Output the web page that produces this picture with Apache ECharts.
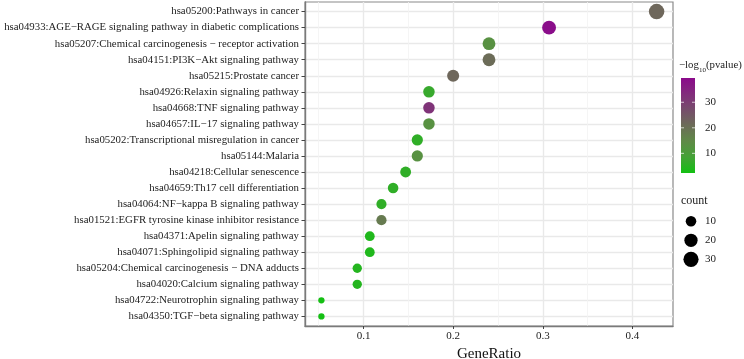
<!DOCTYPE html>
<html>
<head>
<meta charset="utf-8">
<script src="https://cdn.jsdelivr.net/npm/echarts@6/dist/echarts.min.js"></script>
<style>
html, body { margin: 0; padding: 0; background: #fff; }
#bubble { width: 744px; height: 359px; }
</style>
</head>
<body>
<div id="bubble"></div>
<script>
// KEGG pathways, top to bottom
var pathways = [
  "hsa05200:Pathways in cancer",
  "hsa04933:AGE\u2212RAGE signaling pathway in diabetic complications",
  "hsa05207:Chemical carcinogenesis \u2212 receptor activation",
  "hsa04151:PI3K\u2212Akt signaling pathway",
  "hsa05215:Prostate cancer",
  "hsa04926:Relaxin signaling pathway",
  "hsa04668:TNF signaling pathway",
  "hsa04657:IL\u221217 signaling pathway",
  "hsa05202:Transcriptional misregulation in cancer",
  "hsa05144:Malaria",
  "hsa04218:Cellular senescence",
  "hsa04659:Th17 cell differentiation",
  "hsa04064:NF\u2212kappa B signaling pathway",
  "hsa01521:EGFR tyrosine kinase inhibitor resistance",
  "hsa04371:Apelin signaling pathway",
  "hsa04071:Sphingolipid signaling pathway",
  "hsa05204:Chemical carcinogenesis \u2212 DNA adducts",
  "hsa04020:Calcium signaling pathway",
  "hsa04722:Neurotrophin signaling pathway",
  "hsa04350:TGF\u2212beta signaling pathway"
];
var geneRatio = [0.427, 0.307, 0.240, 0.240, 0.200, 0.173, 0.173, 0.173, 0.160, 0.160,
                 0.147, 0.133, 0.120, 0.120, 0.107, 0.107, 0.093, 0.093, 0.053, 0.053];
var counts = [32, 23, 18, 18, 15, 13, 13, 13, 12, 12, 11, 10, 9, 9, 8, 8, 7, 7, 4, 4];
var logP = [22, 39, 13, 21, 22, 7, 32, 13, 6, 13, 6, 6, 6, 18, 4, 4, 4.5, 4.5, 2.5, 2.5];

var xTicks = [0.1, 0.2, 0.3, 0.4];
var xMinor = [0.05, 0.15, 0.25, 0.35];
var colorTicks = [10, 20, 30];
var sizeTicks = [10, 20, 30];
var colorStops = ["#12c012", "#44a236", "#5f8a47", "#6c6c58", "#764d6b", "#822c7c", "#8b0a8b"];

var serif = '"Liberation Serif", "DejaVu Serif", serif';
var pMin = 2.3, pMax = 39.5;          // colour bar limits
var barLeft = 681, barTop = 78, barW = 14, barH = 95;

var cMin = Math.min.apply(null, counts), cMax = Math.max.apply(null, counts);
function sizeOf(c) {
  // area-like scaling as in ggplot scale_size
  return 6.3 + 9.2 * Math.sqrt(Math.max(0, c - cMin) / (cMax - cMin));
}

var yIdx = pathways.map(function (p, i) { return i; });
var points = pathways.map(function (p, i) {
  return [geneRatio[i], i, logP[i], counts[i]];
});

var ctx = document.createElement("canvas").getContext("2d");
function textW(s, size) {
  ctx.font = size + "px " + serif;
  return ctx.measureText(s).width;
}

var myChart = echarts.init(document.getElementById("bubble"));

var graphics = [];
// colour bar title: -log10(pvalue) with subscript
var tx = 679, ty = 71, tSize = 10.8, subSize = 7;
graphics.push({ type: "text", x: tx, y: ty,
  style: { text: "\u2212log", fontSize: tSize, fontFamily: serif, fill: "#222", verticalAlign: "bottom" } });
tx += textW("\u2212log", tSize);
graphics.push({ type: "text", x: tx, y: ty + 2.5,
  style: { text: "10", fontSize: subSize, fontFamily: serif, fill: "#222", verticalAlign: "bottom" } });
tx += textW("10", subSize);
graphics.push({ type: "text", x: tx, y: ty,
  style: { text: "(pvalue)", fontSize: tSize, fontFamily: serif, fill: "#222", verticalAlign: "bottom" } });

// colour bar
graphics.push({
  type: "rect", shape: { x: barLeft, y: barTop, width: barW, height: barH },
  style: {
    fill: new echarts.graphic.LinearGradient(0, 1, 0, 0, colorStops.map(function (c, k) {
      return { offset: k / (colorStops.length - 1), color: c };
    }))
  }
});
colorTicks.forEach(function (v) {
  var y = barTop + (pMax - v) / (pMax - pMin) * barH;
  graphics.push({ type: "line", shape: { x1: barLeft, y1: y, x2: barLeft + 3, y2: y },
    style: { stroke: "#fff", lineWidth: 1, opacity: 0.7 }, z: 100 });
  graphics.push({ type: "line", shape: { x1: barLeft + barW - 3, y1: y, x2: barLeft + barW, y2: y },
    style: { stroke: "#fff", lineWidth: 1, opacity: 0.7 }, z: 100 });
  graphics.push({ type: "text", x: 705, y: y,
    style: { text: String(v), fontSize: 11, fontFamily: serif, fill: "#222", verticalAlign: "middle" } });
});
// size legend
graphics.push({ type: "text", x: 681, y: 201,
  style: { text: "count", fontSize: 12, fontFamily: serif, fill: "#222", verticalAlign: "middle" } });
sizeTicks.forEach(function (v, k) {
  var cy = 221.3 + k * 19;
  graphics.push({ type: "circle", shape: { cx: 691, cy: cy, r: sizeOf(v) / 2 }, style: { fill: "#000" } });
  graphics.push({ type: "text", x: 705, y: cy,
    style: { text: String(v), fontSize: 11, fontFamily: serif, fill: "#222", verticalAlign: "middle" } });
});

var option = {
  backgroundColor: "#fff",
  animation: false,
  grid: {
    left: 305, top: 2, width: 368, height: 324,
    outerBoundsMode: "none",
    containLabel: false,
    show: true, borderColor: "#8a8a8a", borderWidth: 1.2, backgroundColor: "#fff"
  },
  xAxis: [
    {
      type: "value",
      min: 0.0347, max: 0.4453,
      name: "GeneRatio",
      nameLocation: "middle",
      nameGap: 17,
      nameTextStyle: { fontSize: 15, fontFamily: serif, color: "#111", verticalAlign: "top" },
      axisLine: { show: true, onZero: false, lineStyle: { color: "#7a7a7a", width: 1.4 } },
      axisTick: { show: true, length: 3, customValues: xTicks, lineStyle: { color: "#444" } },
      axisLabel: { customValues: xTicks, margin: 5, fontSize: 11, fontFamily: serif, color: "#222" },
      splitLine: { show: true, lineStyle: { color: "#e9e9e9", width: 1.4 } }
    },
    {
      type: "value",
      position: "top",
      min: 0.0347, max: 0.4453,
      axisLine: { show: false },
      axisTick: { show: false, customValues: xMinor },
      axisLabel: { show: false, customValues: xMinor },
      splitLine: { show: true, lineStyle: { color: "#f2f2f2", width: 0.8 } }
    }
  ],
  yAxis: {
    type: "value",
    inverse: true,
    min: -0.6, max: 19.6,
    axisLine: { show: true, onZero: false, lineStyle: { color: "#7a7a7a", width: 1.4 } },
    axisTick: { show: true, length: 3.5, customValues: yIdx, lineStyle: { color: "#444" } },
    axisLabel: {
      customValues: yIdx, margin: 6, fontSize: 10.8, fontFamily: serif, color: "#222",
      formatter: function (v) { return pathways[Math.round(v)]; }
    },
    splitLine: { show: true, lineStyle: { color: "#e9e9e9", width: 1.4 } }
  },
  visualMap: {
    type: "continuous",
    show: false,
    seriesIndex: 0,
    dimension: 2,
    min: pMin, max: pMax,
    inRange: { color: colorStops }
  },
  series: [
    {
      type: "scatter",
      data: points,
      symbolSize: function (v) { return sizeOf(v[3]); },
      itemStyle: { opacity: 1 },
      z: 5
    }
  ],
  graphic: graphics
};
myChart.setOption(option);
</script>
</body>
</html>
